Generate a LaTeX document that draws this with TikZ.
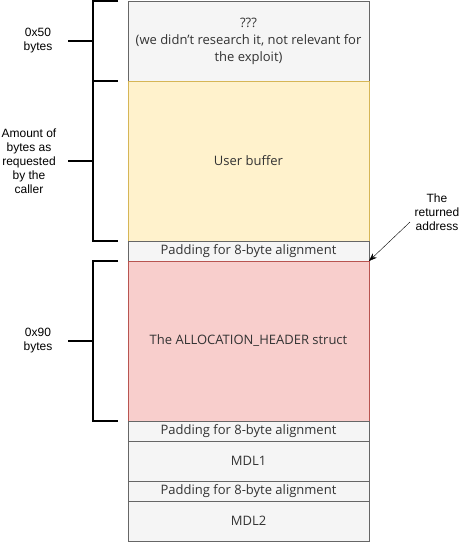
\documentclass[tikz,border=0pt]{standalone}
\usepackage{fontspec}
\setmainfont{Open Sans}
\newfontfamily\labelfont{Liberation Sans}
\usetikzlibrary{arrows.meta, positioning}

\definecolor{greyfill}{HTML}{F5F5F5}
\definecolor{greydraw}{HTML}{666666}
\definecolor{yellowfill}{HTML}{FFF2CC}
\definecolor{yellowdraw}{HTML}{D6B656}
\definecolor{redfill}{HTML}{F8CECC}
\definecolor{reddraw}{HTML}{B85450}
\definecolor{boxtext}{HTML}{333333}

\tikzset{
    block/.style={draw=greydraw, fill=greyfill, text=boxtext, minimum width=241pt,
        inner sep=0pt, outer sep=0pt, font=\fontsize{13}{17}\selectfont, align=center},
    sidelabel/.style={font=\labelfont\fontsize{12}{14}\selectfont, align=center, inner sep=0pt},
    brace/.style={line width=2pt}
}

\begin{document}
\begin{tikzpicture}[x=1pt, y=1pt]
\useasboundingbox (0,0) rectangle (461,-542);

% The memory layout, top to bottom
\node[block, minimum height=80pt, anchor=north] (unknown) at (248.5,-1)
    {???\\(we didn{\char"0027}t research it, not relevant for\\the exploit)};
\node[block, draw=yellowdraw, fill=yellowfill, minimum height=160pt, below=0pt of unknown] (userbuf) {User buffer};
\node[block, minimum height=20pt, below=0pt of userbuf] (pad1) {Padding for 8-byte alignment};
\node[block, draw=reddraw, fill=redfill, minimum height=160pt, below=0pt of pad1] (header) {The ALLOCATION\_HEADER struct};
\node[block, minimum height=20pt, below=0pt of header] (pad2) {Padding for 8-byte alignment};
\node[block, minimum height=40pt, below=0pt of pad2] (mdl1) {MDL1};
\node[block, minimum height=20pt, below=0pt of mdl1] (pad3) {Padding for 8-byte alignment};
\node[block, minimum height=40pt, below=0pt of pad3] (mdl2) {MDL2};

% Size labels on the left
\node[sidelabel] (size50) at (38,-41) {0x50\\bytes};
\node[sidelabel] (sizeuser) at (29,-161) {Amount of\\bytes as\\requested\\by the\\caller};
\node[sidelabel] (size90) at (38,-341) {0x90\\bytes};

% Braces
\draw[brace] (118,-1) -- (93,-1) -- (93,-241) -- (118,-241);
\draw[brace] (93,-81) -- (118,-81);
\draw[brace] (68,-41) -- (93,-41);
\draw[brace] (68,-161) -- (93,-161);
\draw[brace] (118,-261) -- (93,-261) -- (93,-421) -- (118,-421);
\draw[brace] (68,-341) -- (93,-341);

% Returned address
\node[sidelabel] (retaddr) at (437,-212) {The\\returned\\address};
\coordinate (arrstart) at (410,-222);
\draw[-{Stealth[length=8pt, width=6pt]}] (arrstart) -- (pad1.south east);

\end{tikzpicture}
\end{document}
